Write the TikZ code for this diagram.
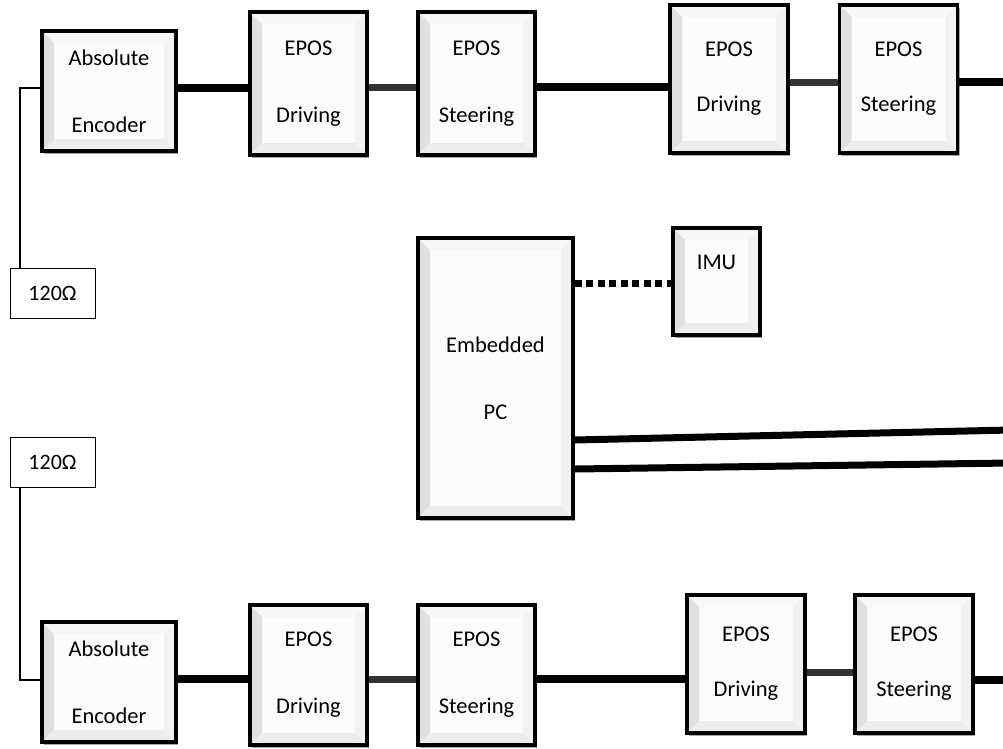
\documentclass[tikz,border=0pt]{standalone}
\usepackage{fontspec}
\setmainfont{Carlito}
\usetikzlibrary{shadows,calc}
\tikzset{
 bevelbox/.style={draw=black, line width=3.5pt, fill=gray!2, font=\fontsize{22.5}{26}\selectfont, align=center, inner sep=0pt,
  drop shadow={shadow xshift=2pt, shadow yshift=-3pt, opacity=0.35, fill=black},
  path picture={
   \path (path picture bounding box.north west) coordinate (bnw)
         (path picture bounding box.north east) coordinate (bne)
         (path picture bounding box.south west) coordinate (bsw)
         (path picture bounding box.south east) coordinate (bse);
   \fill[gray!6]  (bnw) -- (bne) -- ($(bne)+(-12pt,-12pt)$) -- ($(bnw)+(12pt,-12pt)$) -- cycle;
   \fill[gray!24] (bnw) -- (bsw) -- ($(bsw)+(12pt,12pt)$) -- ($(bnw)+(12pt,-12pt)$) -- cycle;
   \fill[gray!10] (bne) -- (bse) -- ($(bse)+(-12pt,12pt)$) -- ($(bne)+(-12pt,-12pt)$) -- cycle;
   \fill[gray!14] (bsw) -- (bse) -- ($(bse)+(-12pt,12pt)$) -- ($(bsw)+(12pt,12pt)$) -- cycle;
  }},
 link/.style={line width=7.5pt},
 glink/.style={line width=7pt, draw=black!80},
 thinline/.style={line width=1.4pt},
 ohm/.style={draw, line width=0.8pt, minimum width=85pt, minimum height=50pt, inner sep=0pt, font=\fontsize{22}{26}\selectfont},
 dotlink/.style={line width=7pt, dash pattern=on 7pt off 4.5pt},
}
\begin{document}
\begin{tikzpicture}[x=1pt,y=-1pt]
\useasboundingbox (0,0) rectangle (1003,748);
\fill[white] (0,0) rectangle (1003,748);

% top row
\node[bevelbox, minimum width=134pt, minimum height=120pt] (ae1) at (109,91) {Absolute\\[41pt]Encoder};
\node[bevelbox, minimum width=117pt, minimum height=143pt] (ed1) at (308.5,83.5) {EPOS\\[41pt]Driving};
\node[bevelbox, minimum width=117pt, minimum height=143pt] (es1) at (476.5,83.5) {EPOS\\[41pt]Steering};
\node[bevelbox, minimum width=118pt, minimum height=148pt] (ed2) at (729,79) {EPOS\\[29pt]Driving};
\node[bevelbox, minimum width=118pt, minimum height=148pt] (es2) at (898.5,79) {EPOS\\[29pt]Steering};
\coordinate (r1) at (1010,82);

% bottom row
\node[bevelbox, minimum width=134pt, minimum height=120pt] (ae2) at (109,682) {Absolute\\[41pt]Encoder};
\node[bevelbox, minimum width=117pt, minimum height=140pt] (ed3) at (308.5,675) {EPOS\\[41pt]Driving};
\node[bevelbox, minimum width=117pt, minimum height=140pt] (es3) at (476.5,675) {EPOS\\[41pt]Steering};
\node[bevelbox, minimum width=118pt, minimum height=138pt] (ed4) at (746,664) {EPOS\\[29pt]Driving};
\node[bevelbox, minimum width=118pt, minimum height=138pt] (es4) at (914,664) {EPOS\\[29pt]Steering};
\coordinate (r2) at (1010,680);

% middle
\node[bevelbox, minimum width=155pt, minimum height=280pt] (pc) at (495.5,378) {Embedded\\[41pt]PC};
\node[bevelbox, minimum width=87pt, minimum height=107pt, text height=15pt, text depth=40pt] (imu) at (716.5,281.5) {IMU};
\coordinate (p1) at (1010,430);
\coordinate (p2) at (1010,463);

% terminators
\node[ohm] (t1) at (52.5,293) {120Ω};
\node[ohm] (t2) at (52.5,462.5) {120Ω};

% links top
\draw[link] (ae1.east |- 0,88) -- (ed1.west |- 0,88);
\draw[glink] (ed1.east |- 0,87) -- (es1.west |- 0,87);
\draw[link] (es1.east |- 0,87) -- (ed2.west |- 0,87);
\draw[glink] (ed2.east |- 0,82) -- (es2.west |- 0,82);
\draw[link] (es2.east |- r1) -- (r1);

% links bottom
\draw[link] (ae2.east |- 0,679) -- (ed3.west |- 0,679);
\draw[glink] (ed3.east |- 0,679) -- (es3.west |- 0,679);
\draw[link] (es3.east |- 0,679) -- (ed4.west |- 0,679);
\draw[glink] (ed4.east |- 0,672) -- (es4.west |- 0,672);
\draw[link] (es4.east |- r2) -- (r2);

% PC links
\draw[dotlink] (pc.east |- 0,283) -- (imu.west |- 0,283);
\draw[link, line width=7pt] (pc.east |- 0,440) -- (p1);
\draw[link, line width=7pt] (pc.east |- 0,469) -- (p2);

% terminator wires
\draw[thinline] (ae1.west |- 0,88) -| (t1.north -| 20,0);
\draw[thinline] (t2.south -| 20,0) |- (ae2.west |- 0,680);
\end{tikzpicture}
\end{document}
